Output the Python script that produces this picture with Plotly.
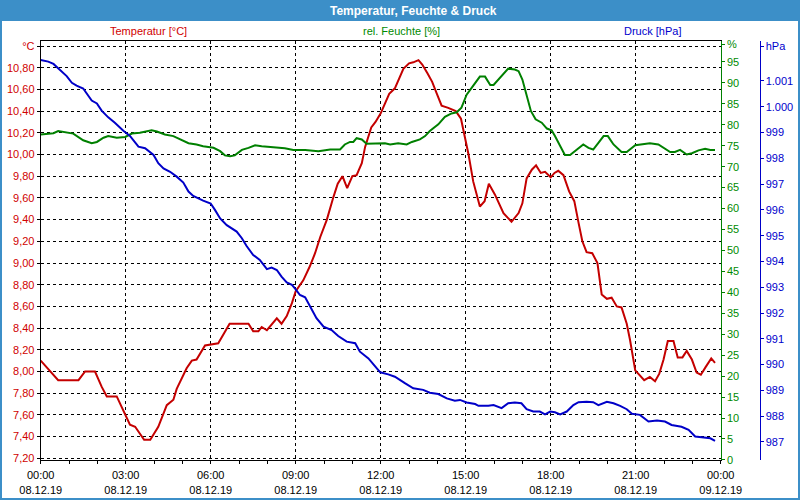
import pandas as pd
import plotly.graph_objects as go

BASE = pd.Timestamp("2019-12-08 00:00")

# Temperature [°C] (minutes after 08.12.19 00:00)
temp_min = [0, 20, 37, 55, 80, 94, 115, 129, 140, 161,
            179, 189, 200, 210, 219, 232, 249, 267, 281, 288,
            309, 320, 330, 348, 376, 400, 415, 440, 450, 461,
            468, 479, 500, 510, 521, 532, 540, 556, 570, 581,
            592, 606, 620, 629, 639, 649, 660, 669, 680, 687,
            700, 709, 720, 738, 750, 768, 780, 789, 800, 808,
            819, 829, 839, 849, 863, 879, 890, 899, 906, 916,
            930, 940, 949, 962, 980, 997, 1012, 1020, 1029, 1040,
            1049, 1059, 1068, 1080, 1088, 1096, 1107, 1119, 1130, 1139,
            1147, 1156, 1168, 1179, 1188, 1199, 1209, 1220, 1230, 1241,
            1248, 1259, 1267, 1278, 1290, 1301, 1310, 1319, 1328, 1340,
            1349, 1359, 1368, 1379, 1389, 1398, 1408, 1420, 1428]
temp_val = [8.10, 8.00, 7.92, 7.92, 7.92, 8.00, 8.00, 7.86, 7.77, 7.77,
            7.61, 7.51, 7.49, 7.43, 7.37, 7.37, 7.49, 7.69, 7.74, 7.84,
            8.03, 8.10, 8.11, 8.24, 8.26, 8.44, 8.44, 8.44, 8.37, 8.37,
            8.41, 8.38, 8.49, 8.44, 8.51, 8.63, 8.74, 8.84, 8.97, 9.09,
            9.24, 9.40, 9.61, 9.73, 9.80, 9.69, 9.80, 9.81, 9.92, 10.07,
            10.25, 10.30, 10.38, 10.56, 10.61, 10.79, 10.84, 10.85, 10.87, 10.83,
            10.75, 10.67, 10.56, 10.45, 10.43, 10.40, 10.33, 10.16, 10.00, 9.75,
            9.52, 9.57, 9.73, 9.63, 9.46, 9.38, 9.46, 9.55, 9.78, 9.86,
            9.90, 9.83, 9.84, 9.79, 9.83, 9.85, 9.81, 9.66, 9.57, 9.37,
            9.20, 9.10, 9.09, 9.00, 8.71, 8.67, 8.68, 8.60, 8.59, 8.44,
            8.29, 8.01, 7.97, 7.92, 7.95, 7.91, 7.98, 8.11, 8.28, 8.28,
            8.13, 8.13, 8.19, 8.11, 7.99, 7.97, 8.04, 8.12, 8.08]

# Relative humidity [%]
hum_min = [0, 27, 37, 51, 69, 90, 108, 119, 133, 143,
           161, 179, 193, 210, 223, 235, 246, 263, 281, 295,
           313, 330, 344, 366, 380, 390, 401, 411, 426, 440,
           454, 468, 486, 496, 517, 535, 560, 588, 613, 634,
           644, 655, 662, 669, 680, 690, 715, 729, 740, 757,
           775, 786, 803, 814, 824, 831, 842, 856, 870, 881,
           891, 902, 913, 930, 941, 952, 959, 976, 990, 1004,
           1012, 1020, 1029, 1038, 1048, 1061, 1072, 1082, 1089, 1100,
           1110, 1121, 1135, 1149, 1160, 1170, 1181, 1192, 1201, 1213,
           1230, 1241, 1259, 1273, 1290, 1308, 1319, 1333, 1343, 1354,
           1368, 1379, 1393, 1407, 1418, 1428]
hum_val = [77.7, 78.0, 78.5, 78.3, 77.9, 76.3, 75.6, 75.9, 76.9, 77.3,
           76.9, 77.1, 77.9, 78.1, 78.5, 78.7, 78.4, 77.7, 77.3, 76.5,
           75.6, 75.3, 74.9, 74.5, 73.7, 72.7, 72.5, 72.7, 74.0, 74.5,
           75.1, 74.9, 74.7, 74.5, 74.4, 74.0, 74.0, 73.7, 74.1, 74.1,
           75.3, 75.9, 75.9, 76.8, 76.5, 75.5, 75.5, 75.6, 75.3, 75.6,
           75.3, 75.9, 76.5, 77.3, 78.5, 79.1, 80.1, 81.9, 82.7, 83.0,
           84.1, 87.2, 88.8, 91.5, 91.5, 89.5, 89.5, 91.6, 93.4, 93.2,
           92.8, 90.8, 86.9, 83.3, 81.3, 80.5, 79.1, 78.7, 77.3, 74.9,
           72.8, 72.8, 74.1, 75.3, 74.5, 74.1, 75.7, 77.3, 77.3, 75.3,
           73.5, 73.5, 75.1, 75.3, 75.6, 75.3, 74.5, 73.5, 73.5, 74.0,
           72.9, 73.2, 73.9, 74.3, 74.0, 74.0]

# Pressure [hPa]
pres_min = [0, 16, 27, 37, 55, 66, 76, 90, 97, 108,
            119, 129, 143, 157, 175, 189, 207, 221, 239, 249,
            260, 274, 288, 302, 313, 323, 344, 360, 369, 380,
            394, 415, 426, 436, 450, 464, 479, 489, 500, 510,
            521, 532, 540, 549, 560, 570, 584, 599, 616, 630,
            648, 666, 676, 694, 708, 719, 736, 750, 772, 789,
            810, 824, 842, 860, 877, 888, 902, 920, 927, 948,
            959, 973, 976, 990, 1004, 1018, 1029, 1043, 1057, 1068,
            1079, 1089, 1100, 1114, 1128, 1139, 1156, 1170, 1181, 1199,
            1213, 1227, 1241, 1252, 1269, 1287, 1305, 1322, 1336, 1357,
            1372, 1386, 1407, 1418, 1428]
pres_val = [1001.81, 1001.75, 1001.66, 1001.49, 1001.19, 1000.93, 1000.82, 1000.71, 1000.52, 1000.24,
            1000.13, 999.85, 999.59, 999.38, 999.07, 998.87, 998.45, 998.39, 998.13, 997.81,
            997.61, 997.48, 997.29, 997.06, 996.71, 996.54, 996.36, 996.25, 996.00, 995.67,
            995.41, 995.16, 994.90, 994.60, 994.25, 994.06, 993.70, 993.76, 993.67, 993.41,
            993.19, 993.09, 992.92, 992.70, 992.61, 992.25, 991.80, 991.47, 991.34, 991.11,
            990.89, 990.83, 990.50, 990.24, 989.92, 989.70, 989.62, 989.53, 989.27, 989.08,
            989.02, 988.91, 988.86, 988.69, 988.60, 988.63, 988.53, 988.47, 988.40, 988.40,
            988.43, 988.33, 988.31, 988.50, 988.53, 988.50, 988.27, 988.18, 988.18, 988.07,
            988.18, 988.15, 988.07, 988.18, 988.43, 988.54, 988.56, 988.54, 988.43, 988.56,
            988.50, 988.40, 988.27, 988.09, 988.05, 987.79, 987.83, 987.79, 987.66, 987.59,
            987.47, 987.21, 987.18, 987.14, 987.04]

# Tick labels
temp_ticks = [7.2, 7.4, 7.6, 7.8, 8.0, 8.2, 8.4, 8.6, 8.8, 9.0, 9.2, 9.4,
              9.6, 9.8, 10.0, 10.2, 10.4, 10.6, 10.8, 11.0]
temp_labels = ["7,20", "7,40", "7,60", "7,80", "8,00", "8,20", "8,40", "8,60",
               "8,80", "9,00", "9,20", "9,40", "9,60", "9,80", "10,00", "10,20",
               "10,40", "10,60", "10,80", "°C"]
hum_ticks = list(range(0, 100, 5)) + [99.2]
hum_labels = [str(v) for v in range(0, 100, 5)] + ["%"]
pres_ticks = [987, 988, 989, 990, 991, 992, 993, 994, 995, 996, 997, 998, 999,
              1000, 1001, 1002.35]
pres_labels = ["987", "988", "989", "990", "991", "992", "993", "994", "995",
               "996", "997", "998", "999", "1.000", "1.001", "hPa"]
x_tick_hours = [0, 3, 6, 9, 12, 15, 18, 21, 24]
x_tick_labels = ["00:00<br>08.12.19", "03:00<br>08.12.19", "06:00<br>08.12.19",
                 "09:00<br>08.12.19", "12:00<br>08.12.19", "15:00<br>08.12.19",
                 "18:00<br>08.12.19", "21:00<br>08.12.19", "00:00<br>09.12.19"]

title_text = "Temperatur, Feuchte & Druck"
series_names = ["Temperatur [°C]", "rel. Feuchte [%]", "Druck [hPa]"]

FONT = "Liberation Sans, Arial, sans-serif"
C_TEMP, C_HUM, C_PRES = "#c40000", "#008000", "#0000c8"
T_TEMP, T_HUM, T_PRES = "#d00000", "#008a00", "#0000cc"
FRAME = "#3c8fc8"


def to_time(mins):
    return [BASE + pd.Timedelta(minutes=m) for m in mins]


fig = go.Figure()
fig.add_trace(go.Scatter(x=to_time(temp_min), y=temp_val, mode="lines",
                         line=dict(color=C_TEMP, width=2), yaxis="y",
                         name=series_names[0]))
fig.add_trace(go.Scatter(x=to_time(hum_min), y=hum_val, mode="lines",
                         line=dict(color=C_HUM, width=2), yaxis="y2",
                         name=series_names[1]))
fig.add_trace(go.Scatter(x=to_time(pres_min), y=pres_val, mode="lines",
                         line=dict(color=C_PRES, width=2), yaxis="y3",
                         name=series_names[2]))

grid = dict(showgrid=True, gridcolor="black", gridwidth=1, griddash="3px,3px")

fig.update_layout(
    width=800, height=500,
    margin=dict(l=0, r=0, t=0, b=0),
    paper_bgcolor="white", plot_bgcolor="white",
    showlegend=False, hovermode=False,
    font=dict(family=FONT, size=11, color="black"),
    xaxis=dict(
        domain=[40.7 / 800, 720.7 / 800],
        type="date",
        range=[BASE, BASE + pd.Timedelta(hours=24)],
        tickmode="array",
        tickvals=[BASE + pd.Timedelta(hours=h) for h in x_tick_hours],
        ticktext=x_tick_labels,
        ticks="outside", ticklen=3, tickcolor="black",
        ticklabelstandoff=2,
        minor=dict(tickmode="array",
                   tickvals=[BASE + pd.Timedelta(hours=h) for h in range(25)],
                   ticks="outside", ticklen=3, tickcolor="black", showgrid=False),
        showline=True, linecolor="black", linewidth=1, mirror=True,
        zeroline=False, automargin=False,
        tickfont=dict(family=FONT, size=11, color="black"),
        **grid,
    ),
    yaxis=dict(
        domain=[1 - 460 / 500, 1 - 40.5 / 500],
        range=[7.184, 11.051],
        tickmode="array", tickvals=temp_ticks, ticktext=temp_labels,
        ticks="outside", ticklen=3, tickcolor="black",
        showline=True, linecolor="black", linewidth=1,
        zeroline=False, automargin=False,
        tickfont=dict(family=FONT, size=11, color=T_TEMP),
        **grid,
    ),
    yaxis2=dict(
        overlaying="y", side="right", anchor="x",
        range=[-0.02, 100.12],
        tickmode="array", tickvals=hum_ticks, ticktext=hum_labels,
        ticks="outside", ticklen=3, tickcolor=C_HUM,
        showline=True, linecolor=C_HUM, linewidth=1,
        showgrid=False, zeroline=False, automargin=False,
        tickfont=dict(family=FONT, size=11, color=T_HUM),
    ),
    yaxis3=dict(
        overlaying="y", side="right", anchor="free", position=759.5 / 800,
        range=[986.30, 1002.57],
        tickmode="array", tickvals=pres_ticks, ticktext=pres_labels,
        ticks="outside", ticklen=3, tickcolor=C_PRES,
        showline=True, linecolor=C_PRES, linewidth=1,
        showgrid=False, zeroline=False, automargin=False,
        tickfont=dict(family=FONT, size=11, color=T_PRES),
    ),
    shapes=[
        dict(type="rect", xref="paper", yref="paper", x0=0, x1=1,
             y0=1 - 21 / 500, y1=1, fillcolor=FRAME, line=dict(width=0), layer="above"),
        dict(type="rect", xref="paper", yref="paper", x0=0, x1=2 / 800,
             y0=0, y1=1, fillcolor=FRAME, line=dict(width=0), layer="above"),
        dict(type="rect", xref="paper", yref="paper", x0=798 / 800, x1=1,
             y0=0, y1=1, fillcolor=FRAME, line=dict(width=0), layer="above"),
        dict(type="rect", xref="paper", yref="paper", x0=0, x1=1,
             y0=0, y1=2 / 500, fillcolor=FRAME, line=dict(width=0), layer="above"),
    ],
    annotations=[
        dict(text="<b>" + title_text + "</b>", xref="paper", yref="paper",
             x=414 / 800, y=1 - 10.5 / 500, xanchor="center", yanchor="middle",
             showarrow=False, font=dict(family=FONT, size=12, color="white")),
        dict(text=series_names[0], xref="paper", yref="paper",
             x=148 / 800, y=1 - 31 / 500, xanchor="center", yanchor="middle",
             showarrow=False, font=dict(family=FONT, size=11, color=T_TEMP)),
        dict(text=series_names[1], xref="paper", yref="paper",
             x=402 / 800, y=1 - 31 / 500, xanchor="center", yanchor="middle",
             showarrow=False, font=dict(family=FONT, size=11, color=T_HUM)),
        dict(text=series_names[2], xref="paper", yref="paper",
             x=652 / 800, y=1 - 31 / 500, xanchor="center", yanchor="middle",
             showarrow=False, font=dict(family=FONT, size=11, color=T_PRES)),
    ],
)

fig.write_html("out.html", config={"displayModeBar": False, "staticPlot": True})
